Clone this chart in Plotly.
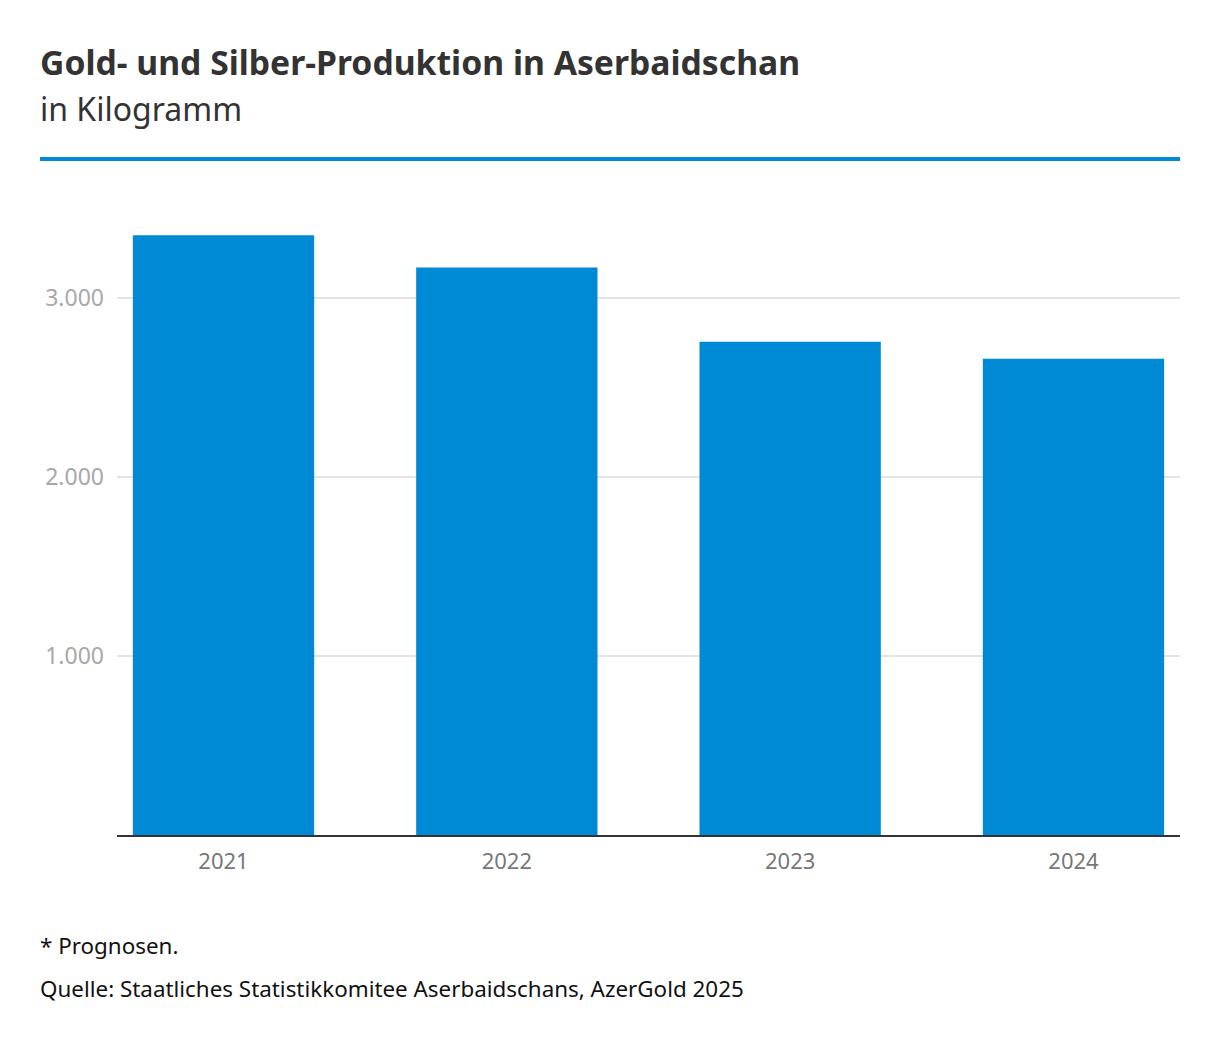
import plotly.graph_objects as go

years = ["2021", "2022", "2023", "2024"]
production = [3350, 3170, 2755, 2660]
ytick_vals = [1000, 2000, 3000]

FONT = "Noto Sans"

fig = go.Figure()
fig.add_trace(go.Bar(
    x=years, y=production,
    marker=dict(color="#0089d4", line=dict(width=0)),
    width=0.64,
    hoverinfo="x+y",
))

# page has an 8px body offset; margins compensate
fig.update_layout(
    width=1220, height=1044,
    margin=dict(l=109, r=48, t=192, b=217),
    paper_bgcolor="white", plot_bgcolor="white",
    separators=",.",
    showlegend=False,
    font=dict(family=FONT),
    xaxis=dict(
        type="category",
        range=[-0.376, 3.376],
        showgrid=False,
        showline=True, linecolor="#333333", linewidth=2,
        ticks="",
        tickfont=dict(size=22, color="#777777", family=FONT),
        ticklabelstandoff=6,
    ),
    yaxis=dict(
        range=[0, 3547],
        tickvals=ytick_vals,
        tickformat=",d",
        showgrid=True, gridcolor="#e3e3e3", gridwidth=1.5,
        zeroline=False,
        showline=False,
        ticks="",
        tickfont=dict(size=23, color="#a8a8a8", family=FONT),
        ticklabelstandoff=12,
    ),
    shapes=[dict(
        type="line", xref="paper", yref="paper",
        x0=-77/1063, x1=1.0, y0=(1044-159-209)/635, y1=(1044-159-209)/635,
        line=dict(color="#0089d4", width=4),
    )],
    annotations=[
        dict(text="<b>Gold- und Silber-Produktion in Aserbaidschan</b>",
             xref="paper", yref="paper", x=-79/1063, y=(1044-62-209)/635,
             xanchor="left", yanchor="middle", showarrow=False,
             font=dict(size=33.7, color="#333333", family=FONT)),
        dict(text="in Kilogramm",
             xref="paper", yref="paper", x=-79/1063, y=(1044-109-209)/635,
             xanchor="left", yanchor="middle", showarrow=False,
             font=dict(size=32, color="#333333", family=FONT)),
        dict(text="* Prognosen.",
             xref="paper", yref="paper", x=-79/1063, y=(1044-945-209)/635,
             xanchor="left", yanchor="middle", showarrow=False,
             font=dict(size=22.4, color="#111111", family=FONT)),
        dict(text="Quelle: Staatliches Statistikkomitee Aserbaidschans, AzerGold 2025",
             xref="paper", yref="paper", x=-79/1063, y=(1044-988-209)/635,
             xanchor="left", yanchor="middle", showarrow=False,
             font=dict(size=22.4, color="#111111", family=FONT)),
    ],
)

fig.write_html("out.html")
